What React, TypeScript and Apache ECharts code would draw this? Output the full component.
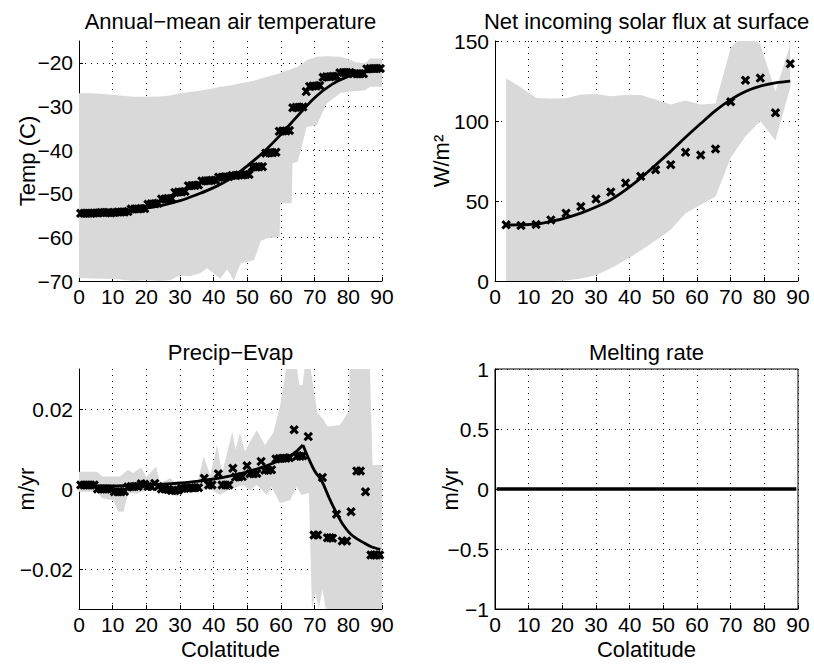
import React, { useEffect, useRef } from 'react';
import * as echarts from 'echarts';

const FONT = '"Liberation Sans", Arial, Helvetica, sans-serif';
const GRAY = '#d9d9d9';

// ---------- Panel 1: Annual-mean air temperature ----------
const obsColat = [0.5,1.5,2.5,3.5,4.5,5.5,6.5,7.5,8.5,9.5,10.5,11.5,12.5,13.5,14.5,15.5,16.5,17.5,18.5,19.5,20.5,21.5,22.5,23.5,24.5,25.5,26.5,27.5,28.5,29.5,30.5,31.5,32.5,33.5,34.5,35.5,36.5,37.5,38.5,39.5,40.5,41.5,42.5,43.5,44.5,45.5,46.5,47.5,48.5,49.5,50.5,51.5,52.5,53.5,54.5,55.5,56.5,57.5,58.5,59.5,60.5,61.5,62.5,63.5,64.5,65.5,66.5,67.5,68.5,69.5,70.5,71.5,72.5,73.5,74.5,75.5,76.5,77.5,78.5,79.5,80.5,81.5,82.5,83.5,84.5,85.5,86.5,87.5,88.5,89.5];
const tempObs = [-54.5,-54.5,-54.5,-54.5,-54.4,-54.4,-54.3,-54.3,-54.3,-54.4,
  -54.3,-54.2,-54.2,-54.2,-54.1,
  -53.5,-53.5,-53.5,-53.4,-53.4,
  -52.4,-52.3,-52.3,-52.2,
  -51.2,-51.2,-51.1,-51.1,
  -49.7,-49.6,-49.6,-49.5,
  -48.2,-48.1,-48.1,-48.0,
  -47.1,-47.0,-47.0,-46.9,-46.9,
  -46.2,-46.2,-46.1,-46.1,
  -45.8,-45.8,-45.7,-45.7,-45.6,-45.6,
  -43.9,-43.9,-43.8,-43.8,
  -40.7,-40.6,-40.6,-40.5,
  -35.7,-35.6,-35.6,-35.5,
  -30.3,-30.2,-30.2,-30.1,
  -26.6,
  -25.4,-25.3,-25.3,-25.2,
  -23.3,-23.2,-23.2,-23.1,-23.1,
  -22.3,-22.2,-22.2,-22.2,
  -22.5,-22.5,-22.5,-22.5,
  -21.4,-21.3,-21.3,-21.3,-21.3];
const tempFitColat = [0,5,10,15,20,25,30,35,40,45,50,55,60,65,70,75,80,85,90];
const tempFit = [-54.3,-54.3,-54.1,-53.8,-53.3,-52.6,-51.6,-50.2,-48.6,-46.5,-43.6,-40.3,-36.4,-32.1,-28.0,-25.0,-23.1,-22.1,-21.7];
const tempBandColat = [0,4,8,12,16,20,24,27,30,33,36,38,40,42,44,46,48,52,54,56,59.6,59.8,63.2,63.4,65,67.6,70.6,73.6,77.5,80.5,82,85,86.5,90];
const tempUpper = [-27.0,-27.0,-27.2,-27.5,-27.8,-27.8,-27.7,-27.5,-27.0,-26.7,-26.4,-26.1,-25.8,-25.5,-25.3,-25.0,-24.7,-24.1,-23.6,-23.2,-22.4,-22.3,-21.4,-21.3,-20.9,-19.4,-18.6,-18.5,-18.6,-19.3,-19.8,-20.1,-19.0,-19.0];
const tempLower = [-69.3,-69.4,-69.5,-69.6,-70,-69.8,-70,-69.8,-68.7,-68.9,-68.2,-67.1,-68.3,-69.5,-67.3,-69.9,-66.0,-65.2,-60.8,-60.2,-59.9,-52.2,-52.2,-43.0,-42.6,-34.7,-34.3,-29.3,-27.0,-26.6,-26.5,-26.3,-25.5,-25.5];
const tempTicks = [-70,-60,-50,-40,-30,-20];

// ---------- Panel 2: Net incoming solar flux ----------
const solarColat = [3.3,7.7,12.2,16.6,21.1,25.5,30.0,34.4,38.8,43.3,47.7,52.2,56.6,61.1,65.5,70.0,74.4,78.8,83.3,87.7];
const solarObs = [35.1,34.7,35.3,38.2,42.4,46.6,51.2,55.6,61.2,65.4,69.5,72.7,80.4,78.7,82.5,112.0,125.5,126.8,105.1,135.8];
const solarFit = [35.0,35.1,35.5,37.2,39.5,42.4,46.2,50.8,57.0,64.3,72.5,81.0,89.8,98.4,106.5,113.4,118.5,121.8,123.8,124.9];
const solarUpper = [126.6,121.0,114.3,114.0,114.2,116.5,116.8,115.5,116.2,116.2,113.5,110.3,112.8,110.3,111.0,145.8,155.0,147.9,118.5,147.9];
const solarLower = [0,0,0,0,0.3,1.5,3.6,7.9,13.2,19.0,25.3,32.0,42.4,47.6,52.8,77.0,90.5,100.0,87.8,121.0];

// ---------- Panel 3: Precip-Evap ----------
const peObsColat = [0.5,1.5,2.5,3.5,4.5,5.5,6.5,7.5,8.5,9.5,10.5,11.5,12.5,13.5,14.5,15.5,16.5,17.5,18.5,19.5,20.5,21.5,22.5,23.5,24.5,25.5,26.5,27.5,28.5,29.5,30.5,31.5,32.5,33.5,34.5,35.5,37.2,38.5,39.5,41.4,42.5,43.5,44.5,45.7,46.5,47.5,48.5,49.9,50.8,51.8,52.8,54.1,55.2,56.2,57.2,58.5,59.5,60.5,61.5,62.5,63.9,64.7,65.7,66.5,68.1,69.8,70.9,72.3,73.8,74.6,75.3,76.5,78.2,79.5,80.8,82.5,83.6,85.1,86.7,87.6,88.4,89.3];
const peObs = [0.001,0.001,0.001,0.001,0.001,0,0,0,0,0,-0.0007,-0.0007,-0.0007,-0.0006,0.0005,0.0006,0.0006,0.0006,0.0013,0.0012,0.0006,0.0006,0.0014,0.0006,0,0,-0.0001,-0.0004,-0.0004,-0.0003,0.0002,0.0002,0.0002,0.0003,0.0003,0.0003,0.0027,0.001,0.001,0.0038,0.001,0.001,0.001,0.0052,0.003,0.003,0.0031,0.0058,0.0038,0.0038,0.0039,0.0069,0.0047,0.0047,0.0048,0.0075,0.0076,0.0077,0.0077,0.0078,0.0148,0.0082,0.0082,0.0083,0.0131,-0.0115,-0.0115,0.0029,-0.0122,-0.0122,-0.0123,-0.0063,-0.013,-0.013,-0.0057,0.0045,0.0045,-0.0007,-0.0165,-0.0165,-0.0165,-0.0165];
const peFitColat = [0,5,10,15,20,25,30,35,40,45,50,55,60,62.7,64.6,66.5,68,70,72.1,74.3,76.6,78.5,80.5,82.5,84.5,87,89.5];
const peFit = [0.001,0.0008,0.0008,0.0009,0.001,0.0012,0.0015,0.0019,0.0025,0.0033,0.0043,0.0056,0.0073,0.0083,0.0094,0.011,0.008,0.0045,0.002,-0.0022,-0.0062,-0.009,-0.0111,-0.0124,-0.0134,-0.0145,-0.0151];
const peUpperColat = [0,5.3,7,12.2,14.5,16,18.5,20,22.9,24.1,27,29,32,35.4,37,39,41,42.5,45.5,46.5,47.8,49.3,50.8,52.8,55.2,57.7,59.7,61.5,64.8,65.4,66.4,67,68.8,70.8,72.5,73.8,77.5,80.2,80.4,86.4,87.2,90];
const peUpper = [0.0043,0.0043,0.0031,0.0031,0.0048,0.004,0.0054,0.003,0.0056,0.0014,0.0027,0.0014,0.0018,0.0022,0.0081,0.0035,0.011,0.0039,0.0143,0.0098,0.014,0.0093,0.0118,0.0147,0.011,0.014,0.0206,0.03,0.03,0.026,0.026,0.03,0.03,0.019,0.0175,0.0156,0.016,0.0195,0.03,0.03,0.006,0.006];
const peLowerColat = [0,5.3,6.8,10.3,11.7,13.2,14.6,17.1,18.6,21.6,24.5,27.5,29,31,36.4,38.9,41.9,44.8,48.8,50.8,52.8,55.8,57.2,59.7,62.7,64.6,66.1,68.3,69.2,70.2,71.2,72.3,73.3,90];
const peLower = [-0.0007,-0.0007,-0.0023,-0.0028,-0.0057,-0.0057,-0.001,-0.0012,-0.0007,0,-0.0007,-0.0005,-0.0019,-0.0007,-0.0005,0,-0.0015,0,0.001,-0.0003,0.001,-0.0015,0.0005,-0.0035,-0.0028,0.0005,-0.0015,-0.001,-0.03,-0.026,-0.03,-0.025,-0.03,-0.03];
const peTicks = [-0.02,0,0.02];

// ---------- Panel 4: Melting rate ----------
const meltColat = [0.5,89.5];
const meltRate = [0,0];

const zip = (xs: number[], ys: number[]) => xs.map((x, i) => [x, ys[i]]);
const fmt = (v: number) => String(+Number(v).toFixed(4)).replace('-', '\u2212');
const GRID_LINE = { color: '#000', width: 1, type: [1, 5] as any };
const X_SYMBOL = 'path://M2.3,0L5,2.7L7.7,0L10,2.3L7.3,5L10,7.7L7.7,10L5,7.3L2.3,10L0,7.7L2.7,5L0,2.3Z';

function xAxis(gridIndex: number, withName: boolean) {
  return {
    type: 'value', gridIndex, min: 0, max: 90, interval: 10,
    name: withName ? 'Colatitude' : '', nameLocation: 'middle', nameGap: 29, nameMoveOverlap: false,
    nameTextStyle: { color: '#000', fontSize: 22, fontFamily: FONT },
    axisLine: { show: true, onZero: false, lineStyle: { color: '#000', width: 1 } },
    axisTick: { show: true, inside: true, length: 4, lineStyle: { color: '#000' } },
    axisLabel: { color: '#000', fontSize: 21, fontFamily: FONT, margin: 5, formatter: fmt },
    splitLine: { show: true, lineStyle: GRID_LINE },
  };
}

function yAxis(gridIndex: number, min: number, max: number, interval: number, name: string, nameGap: number, custom?: number[]) {
  const ax: any = {
    type: 'value', gridIndex, min, max, interval,
    name, nameLocation: 'middle', nameGap, nameRotate: 90, nameMoveOverlap: false,
    nameTextStyle: { color: '#000', fontSize: 22, fontFamily: FONT },
    axisLine: { show: true, onZero: false, lineStyle: { color: '#000', width: 1 } },
    axisTick: { show: true, inside: true, length: 4, lineStyle: { color: '#000' } },
    axisLabel: { color: '#000', fontSize: 21, fontFamily: FONT, margin: 6, formatter: fmt },
    splitLine: { show: true, lineStyle: GRID_LINE },
  };
  if (custom) {
    ax.axisTick.customValues = custom;
    ax.axisLabel.customValues = custom;
  }
  return ax;
}

function band(idx: number, upper: number[][], lower: number[][]) {
  return {
    type: 'custom', xAxisIndex: idx, yAxisIndex: idx, clip: true, silent: true, z: 1,
    data: [upper[0]],
    renderItem: (_params: any, api: any) => {
      const pts = upper.map((p) => api.coord(p)).concat(lower.slice().reverse().map((p) => api.coord(p)));
      return { type: 'polygon', shape: { points: pts }, style: { fill: GRAY, stroke: null } };
    },
  };
}

function fitLine(idx: number, data: number[][], smooth: boolean | number, width = 2.8) {
  return {
    type: 'line', xAxisIndex: idx, yAxisIndex: idx, data, smooth,
    showSymbol: false, symbol: 'none', silent: true, z: 3,
    lineStyle: { color: '#000', width },
  };
}

function marks(idx: number, data: number[][]) {
  return {
    type: 'scatter', xAxisIndex: idx, yAxisIndex: idx, data, symbol: X_SYMBOL, symbolSize: 9.5,
    silent: true, z: 4, itemStyle: { color: '#000', opacity: 1 },
  };
}

function title(text: string, x: number, y: number) {
  return {
    text, left: x, top: y, textAlign: 'center', padding: 0,
    textStyle: { color: '#000', fontSize: 22, fontWeight: 'normal', fontFamily: FONT },
  };
}

function buildOption() {
  const peFitData = zip(peFitColat, peFit);
  const peak = peFit.indexOf(Math.max(...peFit));
  return {
    animation: false,
    backgroundColor: '#fff',
    textStyle: { fontFamily: FONT },
    title: [
      title('Annual\u2212mean air temperature', 230.5, 10),
      title('Net incoming solar flux at surface', 646.5, 10),
      title('Precip\u2212Evap', 230.5, 341),
      title('Melting rate', 646.5, 341),
    ],
    grid: [
      { left: 79, top: 41, width: 303, height: 240, show: false },
      { left: 495, top: 41, width: 303, height: 240, show: false },
      { left: 79, top: 369, width: 303, height: 240, show: false },
      { left: 495, top: 369, width: 303, height: 240, show: true, borderColor: '#000', borderWidth: 1, backgroundColor: 'transparent' },
    ],
    xAxis: [xAxis(0, false), xAxis(1, false), xAxis(2, true), xAxis(3, true)],
    yAxis: [
      yAxis(0, -70, -15, 10, 'Temp (C)', 41, tempTicks),
      yAxis(1, 0, 150, 50, 'W/m\u00b2', 43),
      yAxis(2, -0.03, 0.03, 0.01, 'm/yr', 42, peTicks),
      yAxis(3, -1, 1, 0.5, 'm/yr', 34),
    ],
    series: [
      band(0, zip(tempBandColat, tempUpper), zip(tempBandColat, tempLower)),
      fitLine(0, zip(tempFitColat, tempFit), 0.35),
      marks(0, zip(obsColat, tempObs)),

      band(1, zip(solarColat, solarUpper), zip(solarColat, solarLower)),
      fitLine(1, zip(solarColat, solarFit), 0.35),
      marks(1, zip(solarColat, solarObs)),

      band(2, zip(peUpperColat, peUpper), zip(peLowerColat, peLower)),
      fitLine(2, peFitData.slice(0, peak + 1), 0.3),
      fitLine(2, peFitData.slice(peak), 0.3),
      marks(2, zip(peObsColat, peObs)),

      fitLine(3, zip(meltColat, meltRate), false, 3.5),
    ],
  };
}

export default function App() {
  const ref = useRef<HTMLDivElement>(null);
  useEffect(() => {
    const chart = echarts.init(ref.current!, null, { renderer: 'svg' });
    chart.setOption(buildOption() as any);
    return () => chart.dispose();
  }, []);
  return (
    <div
      ref={ref}
      style={{ position: 'absolute', left: 0, top: 0, width: 814, height: 664, background: '#fff' }}
    />
  );
}
